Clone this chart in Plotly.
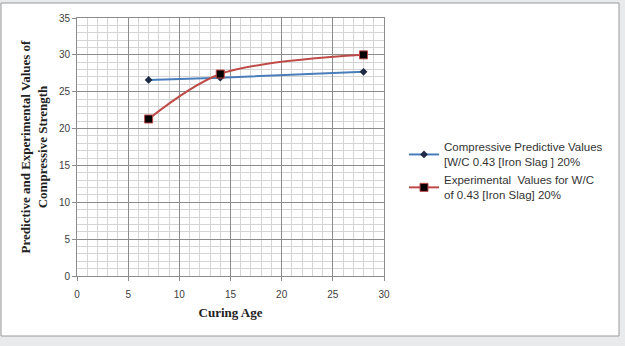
import plotly.graph_objects as go

curing_age = [7, 14, 28]
predictive = [26.6, 26.9, 27.7]
experimental = [21.3, 27.4, 30.0]

pred_name = "Compressive Predictive Values<br>[W/C 0.43 [Iron Slag ] 20%"
exp_name = "Experimental  Values for W/C<br>of 0.43 [Iron Slag] 20%"

fig = go.Figure()
fig.add_trace(go.Scatter(
    x=curing_age, y=predictive, name=pred_name, mode="lines+markers",
    line=dict(color="#4A7EBB", width=2),
    marker=dict(symbol="diamond", size=6, color="#1F2A44",
                line=dict(color="#1F2A44", width=0)),
))
fig.add_trace(go.Scatter(
    x=curing_age, y=experimental, name=exp_name, mode="lines+markers",
    line=dict(color="#BE4B48", width=2, shape="spline", smoothing=0.9),
    marker=dict(symbol="square", size=8, color="#000000",
                line=dict(color="#BE4B48", width=1)),
))

axis_font = dict(family="Liberation Sans", size=10, color="#404040")
title_font = dict(family="Liberation Serif", size=13, color="#222222")

# plot area spans 307 x 258 px; white chart panel extends beyond it
PW, PH = 307, 258

fig.update_layout(
    width=625, height=346,
    margin=dict(l=77, r=241, t=18, b=70),
    paper_bgcolor="#E8EAEB",
    plot_bgcolor="white",
    showlegend=True,
    legend=dict(x=(404 - 77) / PW, y=(276 - 133) / PH, xanchor="left", yanchor="top",
                font=dict(family="Liberation Sans", size=11.5, color="#333333"),
                bgcolor="rgba(0,0,0,0)", tracegroupgap=6, itemwidth=30),
    xaxis=dict(
        range=[0, 30], dtick=5, tickfont=axis_font,
        showgrid=True, gridcolor="#8C8C8C", gridwidth=1,
        minor=dict(dtick=1, showgrid=True, gridcolor="#D4D4D4", gridwidth=1),
        showline=True, linecolor="#8C8C8C", mirror=True,
        ticks="outside", ticklen=4, tickcolor="#8C8C8C",
        ticklabelstandoff=5,
        zeroline=False,
        title=dict(text="<b>Curing Age</b>", font=title_font, standoff=8),
    ),
    yaxis=dict(
        range=[0, 35], dtick=5, tickfont=axis_font,
        showgrid=True, gridcolor="#8C8C8C", gridwidth=1,
        minor=dict(dtick=1, showgrid=True, gridcolor="#D4D4D4", gridwidth=1),
        showline=True, linecolor="#8C8C8C", mirror=True,
        ticks="outside", ticklen=4, tickcolor="#8C8C8C",
        zeroline=False,
        title=dict(text="<b>Predictive and Experimental Values of<br>Compressive Strength</b>",
                   font=title_font, standoff=8),
    ),
    shapes=[dict(type="rect", xref="paper", yref="paper", layer="below",
                 x0=(1 - 77) / PW, x1=(619 - 77) / PW,
                 y0=(276 - 336) / PH, y1=(276 - 3) / PH,
                 fillcolor="white", line=dict(color="#9A9A9A", width=1))],
)

fig.write_html("out.html")
